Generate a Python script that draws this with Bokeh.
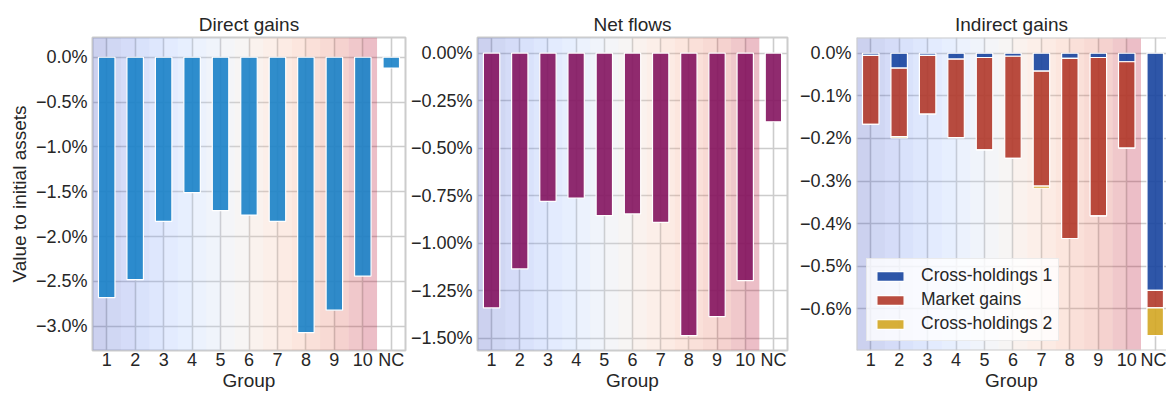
from bokeh.plotting import figure
from bokeh.layouts import row
from bokeh.models import (Range1d, FixedTicker, CustomJSTickFormatter,
                          Legend, LegendItem, Span, ColumnDataSource)
from bokeh.embed import file_html
from bokeh.resources import INLINE

# ---- data (values in percent of initial assets) ----
groups = ["1", "2", "3", "4", "5", "6", "7", "8", "9", "10", "NC"]

direct_gains = [-2.68, -2.48, -1.83, -1.51, -1.71, -1.76, -1.83, -3.07, -2.82, -2.44, -0.12]
net_flows = [-1.34, -1.135, -0.78, -0.762, -0.855, -0.846, -0.89, -1.486, -1.386, -1.197, -0.361]

cross_holdings_1 = [-0.005, -0.035, -0.005, -0.014, -0.010, -0.007, -0.042, -0.012, -0.010, -0.020, -0.557]
market_gains = [-0.162, -0.161, -0.138, -0.184, -0.217, -0.240, -0.270, -0.423, -0.372, -0.203, -0.041]
cross_holdings_2 = [0.0, -0.003, 0.0, 0.0, 0.0, 0.0, -0.005, 0.0, 0.0, 0.0, -0.065]

direct_ticks = [0.0, -0.5, -1.0, -1.5, -2.0, -2.5, -3.0]
flow_ticks = [0.0, -0.25, -0.5, -0.75, -1.0, -1.25, -1.5]
indirect_ticks = [0.0, -0.1, -0.2, -0.3, -0.4, -0.5, -0.6]

# ---- styling ----
FONT = "Liberation Sans"
TEXT = "#262626"
GRID = "#cccccc"
BAR_W = 0.58

# diverging blue->red anchors used for the background bands
_cw = [(59, 76, 192), (98, 130, 234), (141, 176, 254), (184, 208, 249),
       (221, 221, 221), (245, 196, 173), (244, 154, 123), (221, 96, 76), (180, 4, 38)]


def coolwarm(t):
    s = t * (len(_cw) - 1)
    i = min(int(s), len(_cw) - 2)
    f = s - i
    a, b = _cw[i], _cw[i + 1]
    c = [round(a[k] + (b[k] - a[k]) * f) for k in range(3)]
    return "#%02x%02x%02x" % tuple(c)


n_ranked = len(groups) - 1           # groups 1..10 get a coloured band
n_bands = 2 * n_ranked
band_left = [-0.5 + 0.5 * k for k in range(n_bands)]
band_right = [b + 0.5 for b in band_left]
band_colors = [coolwarm(k / (n_bands - 1)) for k in range(n_bands)]

xs = list(range(len(groups)))

pct_fmt = """
const s = Math.abs(tick).toFixed(d) + '%';
return (tick < -1e-12 ? '\u2212' : '') + s;
"""


def make_panel(title, left, frame_w, right, y_lo, y_hi, yticks, dec,
               x_end=len(groups) - 0.5, ylabel=None, outline=True):
    p = figure(width=left + frame_w + right, height=394,
               x_range=Range1d(-0.5, x_end), y_range=Range1d(y_lo, y_hi),
               output_backend="svg", toolbar_location=None,
               min_border_left=left, min_border_right=right,
               min_border_top=37, min_border_bottom=44, title=title)
    p.background_fill_color = "white"
    p.border_fill_color = "white"
    p.outline_line_color = GRID if outline else None
    p.outline_line_width = 2

    p.title.align = "center"
    p.title.text_font = FONT
    p.title.text_font_size = "19px"
    p.title.text_font_style = "normal"
    p.title.text_color = TEXT
    p.title.standoff = 6

    # background bands for ranked groups
    p.quad(left=band_left, right=band_right, bottom=y_lo, top=y_hi,
           fill_color=band_colors, fill_alpha=0.26, line_color=None)

    p.xaxis.ticker = FixedTicker(ticks=xs)
    p.xaxis.major_label_overrides = {i: g for i, g in enumerate(groups)}
    p.yaxis.ticker = FixedTicker(ticks=yticks)
    p.yaxis.formatter = CustomJSTickFormatter(args=dict(d=dec), code=pct_fmt)

    for ax in (p.xaxis[0], p.yaxis[0]):
        ax.axis_line_color = None
        ax.major_tick_line_color = None
        ax.minor_tick_line_color = None
        ax.major_tick_out = 0
        ax.major_tick_in = 0
        ax.minor_tick_out = 0
        ax.minor_tick_in = 0
        ax.major_label_text_font = FONT
        ax.major_label_text_font_size = "18px"
        ax.major_label_text_color = TEXT
        ax.axis_label_text_font = FONT
        ax.axis_label_text_font_size = "19px"
        ax.axis_label_text_font_style = "normal"
        ax.axis_label_text_color = TEXT
        ax.major_label_text_line_height = 1.0
        ax.axis_label_text_line_height = 1.0
    p.xaxis.major_label_standoff = -1
    p.yaxis.major_label_standoff = 5

    p.xaxis.axis_label = "Group"
    p.xaxis.axis_label_standoff = -3
    if ylabel:
        p.yaxis.axis_label = ylabel
        p.yaxis.axis_label_standoff = 3

    p.xgrid.ticker = FixedTicker(ticks=xs)
    p.ygrid.ticker = FixedTicker(ticks=yticks)
    for g in (p.xgrid[0], p.ygrid[0]):
        g.grid_line_color = GRID
        g.grid_line_width = 1.6

    if not outline:
        for loc, dim in ((-0.5, "height"), (y_lo, "width"), (y_hi, "width")):
            p.add_layout(Span(location=loc, dimension=dim,
                              line_color=GRID, line_width=2))
    return p


# Direct gains
p1 = make_panel("Direct gains", 92, 313, 2, -3.27, 0.22, direct_ticks, 1,
                ylabel="Value to initial assets")
p1.vbar(x=xs, top=direct_gains, bottom=0, width=BAR_W,
        fill_color="#1a82c8", fill_alpha=0.9, line_color="white", line_width=1.2)

# Net flows
p2 = make_panel("Net flows", 66, 314, 2, -1.564, 0.082, flow_ticks, 2)
p2.vbar(x=xs, top=net_flows, bottom=0, width=BAR_W,
        fill_color="#84145f", fill_alpha=0.9, line_color="white", line_width=1.2)

# Indirect gains (stacked)
frame3 = 310
p3 = make_panel("Indirect gains", 67, frame3, 0, -0.698, 0.037, indirect_ticks, 1,
                x_end=-0.5 + frame3 / 28.45, outline=False)
src = ColumnDataSource(dict(x=xs, c1=cross_holdings_1, mg=market_gains,
                            c2=cross_holdings_2))
stack_names = ["c1", "mg", "c2"]
stack_colors = ["#17449f", "#b1382a", "#d3a622"]
rs = p3.vbar_stack(stack_names, x="x", width=BAR_W, source=src,
                   fill_color=stack_colors, fill_alpha=0.9,
                   line_color="white", line_width=1.2)
legend = Legend(items=[LegendItem(label="Cross-holdings 1", renderers=[rs[0]]),
                       LegendItem(label="Market gains", renderers=[rs[1]]),
                       LegendItem(label="Cross-holdings 2", renderers=[rs[2]])],
                location=(10, 9))
legend.label_text_font = FONT
legend.label_text_font_size = "17.5px"
legend.label_text_color = TEXT
legend.glyph_width = 34
legend.glyph_height = 12
legend.label_height = 19
legend.label_standoff = 14
legend.spacing = 3
legend.padding = 6
legend.margin = 0
legend.background_fill_color = "white"
legend.background_fill_alpha = 0.8
legend.border_line_color = "#d9d9d9"
legend.border_line_width = 1.3
p3.add_layout(legend)

layout = row(p1, p2, p3)
open("out.html", "w").write(file_html(layout, INLINE))
